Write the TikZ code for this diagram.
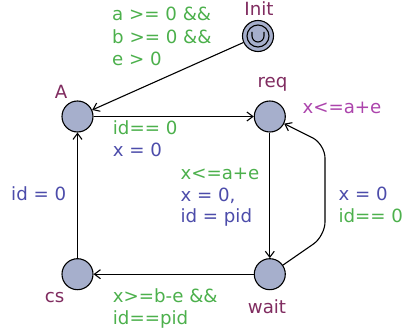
\documentclass[tikz,border=0pt]{standalone}
\usepackage{fontspec}
\setmainfont{DejaVu Sans}
\usetikzlibrary{arrows.meta,calc}
\definecolor{guard}{RGB}{76,176,76}
\definecolor{assign}{RGB}{76,76,170}
\definecolor{locname}{RGB}{128,44,96}
\definecolor{inv}{RGB}{172,68,172}
\definecolor{locfill}{RGB}{166,175,204}
\tikzset{
  loc/.style={circle,draw=black,fill=locfill,line width=1.1pt,minimum size=31pt,inner sep=0pt},
  txt/.style={anchor=base west,inner sep=0pt,font=\fontsize{18.2}{22}\selectfont},
  lname/.style={anchor=base,inner sep=0pt,text=locname,font=\fontsize{18.2}{22}\selectfont},
  gtxt/.style={txt,text=guard},
  atxt/.style={txt,text=assign},
  itxt/.style={txt,text=inv},
  edge/.style={draw=black,line width=1.1pt,-{Straight Barb[length=6pt,width=9pt,line width=1.1pt]}}
}
\begin{document}
\begin{tikzpicture}[x=1pt,y=1pt]
\useasboundingbox (0,0) rectangle (408,333);
% locations
\node[loc] (init) at (258,297) {};
\node[loc] (A) at (77.5,216.5) {};
\node[loc] (req) at (269.8,216.5) {};
\node[loc] (cs) at (77.5,58.8) {};
\node[loc] (wait) at (269.8,58.8) {};
% initial / urgent marks
\draw[line width=1.1pt] (init.center) circle (11);
\draw[line width=1.1pt] ($(init.center)+(-6,4)$) -- ++(0,-4) arc (180:360:6) -- ++(0,4);
% names
\node[lname] (nInit) at (259,317) {Init};
\node[lname] (nA) at (61,234.7) {A};
\node[lname] (nreq) at (272.5,245) {req};
\node[lname] (ncs) at (54.5,30.3) {cs};
\node[lname] (nwait) at (267,19.7) {wait};
\node[itxt] (invreq) at (302.3,219.7) {x<=a+e};
% edges
\draw[edge] (init) -- (A);
\draw[edge] (A) -- (req);
\draw[edge] (req) -- (wait);
\draw[edge] (wait) -- (cs);
\draw[edge] (cs) -- (A);
\coordinate (n1) at (325,97);
\coordinate (n2) at (325,189);
\draw[edge,rounded corners=14pt] (wait) -- (n1) -- (n2) -- (req);
% labels
\node[gtxt] (g1a) at (112,312.3) {a >= 0 \&\&};
\node[gtxt] (g1b) at (112,290) {b >= 0 \&\&};
\node[gtxt] (g1c) at (112,268) {e > 0};
\node[gtxt] (g2) at (112.7,199) {id== 0};
\node[atxt] (a2) at (112.7,177) {x = 0};
\node[gtxt] (g3) at (180.3,153.7) {x<=a+e};
\node[atxt] (a3a) at (180.3,131.3) {x = 0,};
\node[atxt] (a3b) at (180.3,110.3) {id = pid};
\node[atxt] (a4) at (11,132) {id = 0};
\node[atxt] (a5) at (338.3,132) {x = 0};
\node[gtxt] (g5) at (338.3,110.3) {id== 0};
\node[gtxt] (g6a) at (112.7,30.3) {x>=b-e \&\&};
\node[gtxt] (g6b) at (112.7,9) {id==pid};
\end{tikzpicture}
\end{document}
